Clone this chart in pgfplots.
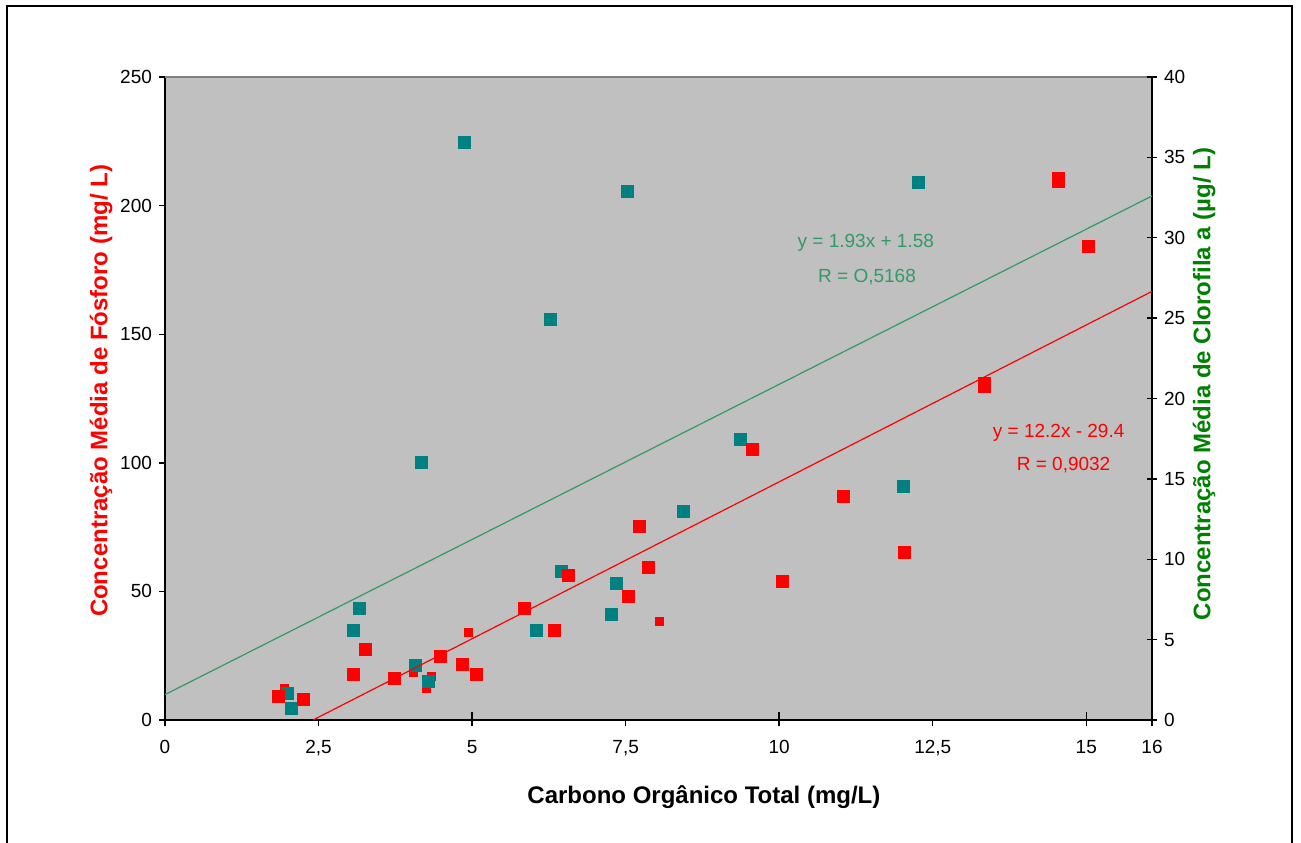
\documentclass[border=0pt]{standalone}
\usepackage{pgfplots}
\pgfplotsset{compat=1.18}
\usepackage{fontspec}
\setmainfont{Liberation Sans}
\definecolor{plotgray}{RGB}{192,192,192}
\definecolor{bordergray}{RGB}{128,128,128}
\definecolor{tealc}{RGB}{0,128,128}
\definecolor{trendgreen}{RGB}{51,153,102}
\definecolor{labelgreen}{RGB}{0,128,0}
\pgfplotsset{
  common/.style={
    scale only axis, width=493.5pt, height=321.5pt,
    xmin=0, xmax=16.07,
    at={(82.5pt,61pt)}, anchor=south west,
    tick label style={font=\fontsize{9.5}{11}\selectfont, black},
    /pgf/number format/assume math mode=true,
    axis line style={black, line width=0.8pt},
    tick style={black, line width=0.7pt},
  }
}
\begin{document}
\begin{tikzpicture}
% axis A: left axis, background, small red marks
\begin{axis}[common, ymin=0, ymax=250,
  axis x line*=bottom, axis y line*=left,
  axis background/.style={fill=plotgray},
  xtick={0,2.5,5,7.5,10,12.5,15,16.07},
  xticklabels={0,{2,5},5,{7,5},10,{12,5},15,16},
  xticklabel style={yshift=-3.5pt},
  ytick={0,50,100,150,200,250},
  tick align=outside, major tick length=3pt,
  extra x ticks={5,10,15},
  extra x tick labels={},
  extra x tick style={tick align=inside, major tick length=4pt},
  xlabel={Carbono Orgânico Total (mg/L)},
  xlabel style={at={(axis description cs:0.546,-0.1198)}, anchor=center,
    font=\bfseries\fontsize{12}{14}\selectfont},
  ylabel={Concentração Média de Fósforo (mg/ L)},
  ylabel style={at={(axis description cs:-0.0648,0.5117)}, anchor=center,
    font=\bfseries\fontsize{12}{14}\selectfont, text=red},
]
\draw[bordergray, line width=0.6pt] (rel axis cs:0,1) -- (rel axis cs:1,1);
\addplot[only marks, mark=square*, mark size=2pt, color=red] coordinates {
  (1.947,12.2) (4.048,18.4) (4.249,12.2) (4.337,17.1) (4.936,34.1) (8.048,38.4)
};
\end{axis}
% axis B: right axis, teal marks and green trend line
\begin{axis}[common, ymin=0, ymax=40,
  axis x line=none, axis y line*=right,
  ytick={0,5,10,15,20,25,30,35,40},
  tick align=center, major tick length=5pt,
  ylabel={Concentração Média de Clorofila a (µg/ L)},
  ylabel style={at={(axis description cs:1.0527,0.5225)}, anchor=center,
    font=\bfseries\fontsize{12}{14}\selectfont, text=labelgreen},
]
\addplot[trendgreen, line width=0.6pt] coordinates {(0,1.58) (16.07,32.60)};
\addplot[only marks, mark=square*, mark size=3pt, color=tealc] coordinates {
  (1.994,1.66) (2.064,0.73) (3.064,5.6) (3.163,6.95) (4.077,3.38) (4.292,2.38)
  (4.168,16.0) (6.047,5.6) (6.454,9.25) (7.268,6.57) (7.345,8.5) (8.443,12.98)
  (4.868,35.96) (6.268,24.95) (7.536,32.9) (9.362,17.48) (12.260,33.47) (12.016,14.56)
};
\end{axis}
% axis C: red marks and red trend line, annotations
\begin{axis}[common, ymin=0, ymax=250, hide axis, clip mode=individual]
\addplot[red, line width=0.6pt] coordinates {(2.41,0) (16.07,166.65)};
\addplot[only marks, mark=square*, mark size=3pt, color=red] coordinates {
  (1.843,9.3) (2.250,8.0) (3.064,17.8) (3.263,27.5) (3.738,16.2) (4.484,24.6)
  (4.844,21.8) (5.063,17.8) (5.850,43.5) (6.333,35.0) (6.571,56.1) (7.537,47.9)
  (7.722,75.4) (7.867,59.5) (10.046,53.7) (11.039,87.1) (12.032,65.3) (9.557,105.4)
  (13.334,131.0) (13.334,129.8) (14.539,210.7) (14.539,209.5) (15.028,184.3)
};
\node[text=trendgreen, font=\fontsize{9.5}{11}\selectfont] at (axis cs:11.41,185.5) {y = 1.93x + 1.58};
\node[text=trendgreen, font=\fontsize{9.5}{11}\selectfont] at (axis cs:11.43,172.3) {R = O,5168};
\node[text=red, font=\fontsize{9.5}{11}\selectfont] at (axis cs:14.55,111.5) {y = 12.2x - 29.4};
\node[text=red, font=\fontsize{9.5}{11}\selectfont] at (axis cs:14.63,99.1) {R = 0,9032};
\end{axis}
\draw[black, line width=1pt] (3.5pt,-5pt) rectangle (646pt,418pt);
\pgfresetboundingbox
\path[use as bounding box] (0,0) rectangle (650.5pt,421pt);
\end{tikzpicture}
\end{document}
